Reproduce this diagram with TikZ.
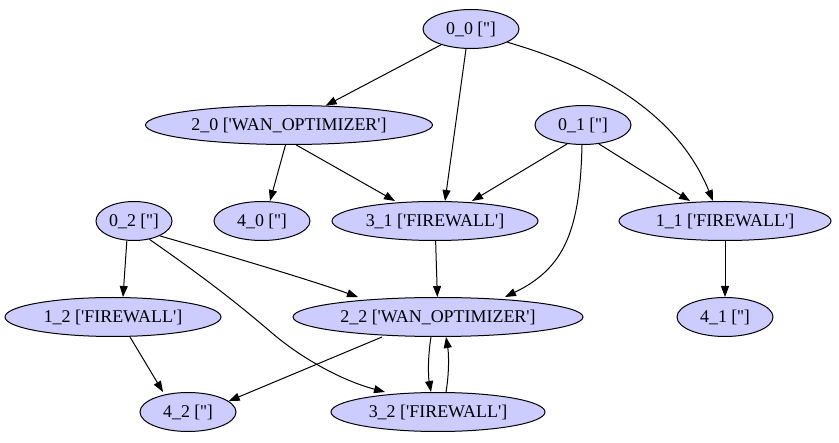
\documentclass[tikz,border=0pt]{standalone}
\usepackage{fontspec}
\setmainfont{Liberation Serif}[Ligatures=TeXOff]
\usetikzlibrary{shapes.geometric,arrows.meta}
\definecolor{nodefill}{HTML}{CCCCFF}
\tikzset{
  gnode/.style={ellipse, draw=black, fill=nodefill, line width=1bp,
    inner sep=0pt, minimum height=39bp, font=\fontsize{18}{20}\selectfont},
  edge/.style={draw=black, line width=1bp,
    -{Triangle[length=11bp,width=8bp]}}
}
\begin{document}
\begin{tikzpicture}[x=1bp,y=-1bp]
\useasboundingbox (0,0) rectangle (839,443);
% first rank
\node[gnode, minimum width=96bp] (n00) at (471,29) {0\_0 ['']};
% second rank
\node[gnode, minimum width=287bp] (n20) at (289,125) {2\_0 ['WAN\_OPTIMIZER']};
\node[gnode, minimum width=96bp] (n01) at (583,125) {0\_1 ['']};
% third rank
\node[gnode, minimum width=76bp] (n02) at (134,221) {0\_2 ['']};
\node[gnode, minimum width=96bp] (n40) at (262,221) {4\_0 ['']};
\node[gnode, minimum width=206bp] (n31) at (435,221) {3\_1 ['FIREWALL']};
\node[gnode, minimum width=212bp] (n11) at (725,221) {1\_1 ['FIREWALL']};
% fourth rank
\node[gnode, minimum width=216bp] (n12) at (113,317) {1\_2 ['FIREWALL']};
\node[gnode, minimum width=290bp] (n22) at (438,317) {2\_2 ['WAN\_OPTIMIZER']};
\node[gnode, minimum width=96bp] (n41) at (725,317) {4\_1 ['']};
% fifth rank
\node[gnode, minimum width=96bp] (n42) at (188,412) {4\_2 ['']};
\node[gnode, minimum width=214bp] (n32) at (438,412) {3\_2 ['FIREWALL']};

% connectors
\draw[edge] (n00) -- (n20);
\draw[edge] (n00.south -| 466,0) -- (n31.north -| 445,0);
\draw[edge] (n00.-20) .. controls (610,72) and (680,120) .. (n11.north -| 713,0);
\draw[edge] (n20.-100) -- (n40.north -| 270,0);
\draw[edge] (n20.-70) -- (n31.north -| 395,0);
\draw[edge] (n01.-130) -- (n31.north -| 472,0);
\draw[edge] (n01.-50) -- (n11.north -| 690,0);
\draw[edge] (n01.south -| 582,0) .. controls (580,230) and (565,268) .. (n22.north -| 505,0);
\draw[edge] (n31) -- (n22);
\draw[edge] (n02.-110) -- (n12.north -| 123,0);
\draw[edge] (n02.-30) .. controls (230,256) and (310,280) .. (n22.north -| 358,0);
\draw[edge] (n02.-50) .. controls (215,285) and (245,310) .. (272,333)
  .. controls (300,357) and (340,380) .. (n32.north -| 385,0);
\draw[edge] (n12.south -| 130,0) -- (n42.north -| 163,0);
\draw[edge] (n22.south -| 382,0) -- (n42.15);
\draw[edge] (n22.south -| 431,0) .. controls (428,355) and (428,375) .. (n32.north -| 431,0);
\draw[edge] (n32.north -| 446,0) .. controls (449,375) and (449,355) .. (n22.south -| 446,0);
\draw[edge] (n11) -- (n41);
\end{tikzpicture}
\end{document}
